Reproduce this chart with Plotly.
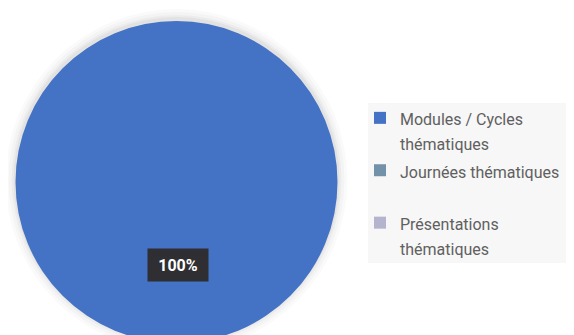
import plotly.graph_objects as go

categories = ["Modules / Cycles<br>thématiques", "Journées thématiques<br> ", "Présentations<br>thématiques"]
values = [100, 0, 0]
colors = ["#4472C4", "#7391A8", "#B4B4CE"]

W, H = 574, 335
total = sum(values)
pct = f"{round(values[0] / total * 100)}%"


def styled(label, size=16):
    return "<br>".join(f"<span style='font-size:{size}px'>{part}</span>" for part in label.split("<br>"))


legend_labels = [styled(c) for c in categories]

# pie geometry (pixels)
cx, cy_top, r = 168.5, 174, 161

fig = go.Figure()
fig.add_trace(go.Pie(
    labels=legend_labels, values=values, sort=False, direction="clockwise",
    marker=dict(colors=colors, line=dict(width=0)),
    textinfo="none", hoverinfo="label+percent",
    domain=dict(x=[(cx - r) / W, (cx + r) / W], y=[(H - cy_top - r) / H, (H - cy_top + r) / H]),
    showlegend=True,
))

# soft shadow around the pie
for grow, alpha in [(10, 0.02), (7, 0.025), (4, 0.03), (2, 0.04)]:
    rr = r + grow
    fig.add_shape(type="circle", xref="paper", yref="paper",
                  x0=(cx - rr) / W, x1=(cx + rr) / W,
                  y0=(H - cy_top - rr + 2) / H, y1=(H - cy_top + rr + 2) / H,
                  fillcolor=f"rgba(0,0,0,{alpha})", line=dict(width=0), layer="below")

fig.add_annotation(
    x=170 / W, y=(H - 257) / H, xref="paper", yref="paper",
    xanchor="center", yanchor="middle",
    text=f"<b>{pct}</b>", showarrow=False,
    font=dict(family="Roboto", size=16, color="white"),
    bgcolor="#2f2f33", width=56, height=28, borderpad=2,
)

fig.add_shape(type="rect", xref="paper", yref="paper",
              x0=360 / W, x1=1, y0=(H - 255) / H, y1=(H - 95) / H,
              fillcolor="#f7f7f7", line=dict(width=0), layer="below")

fig.update_layout(
    width=W, height=H,
    margin=dict(l=0, r=0, t=0, b=0),
    paper_bgcolor="white", plot_bgcolor="white",
    legend=dict(
        x=352 / W, y=(H - 91) / H, xanchor="left", yanchor="top",
        bgcolor="rgba(0,0,0,0)", valign="top",
        font=dict(family="Roboto", size=19, color="#606060"),
    ),
)

fig.write_html("out.html")
